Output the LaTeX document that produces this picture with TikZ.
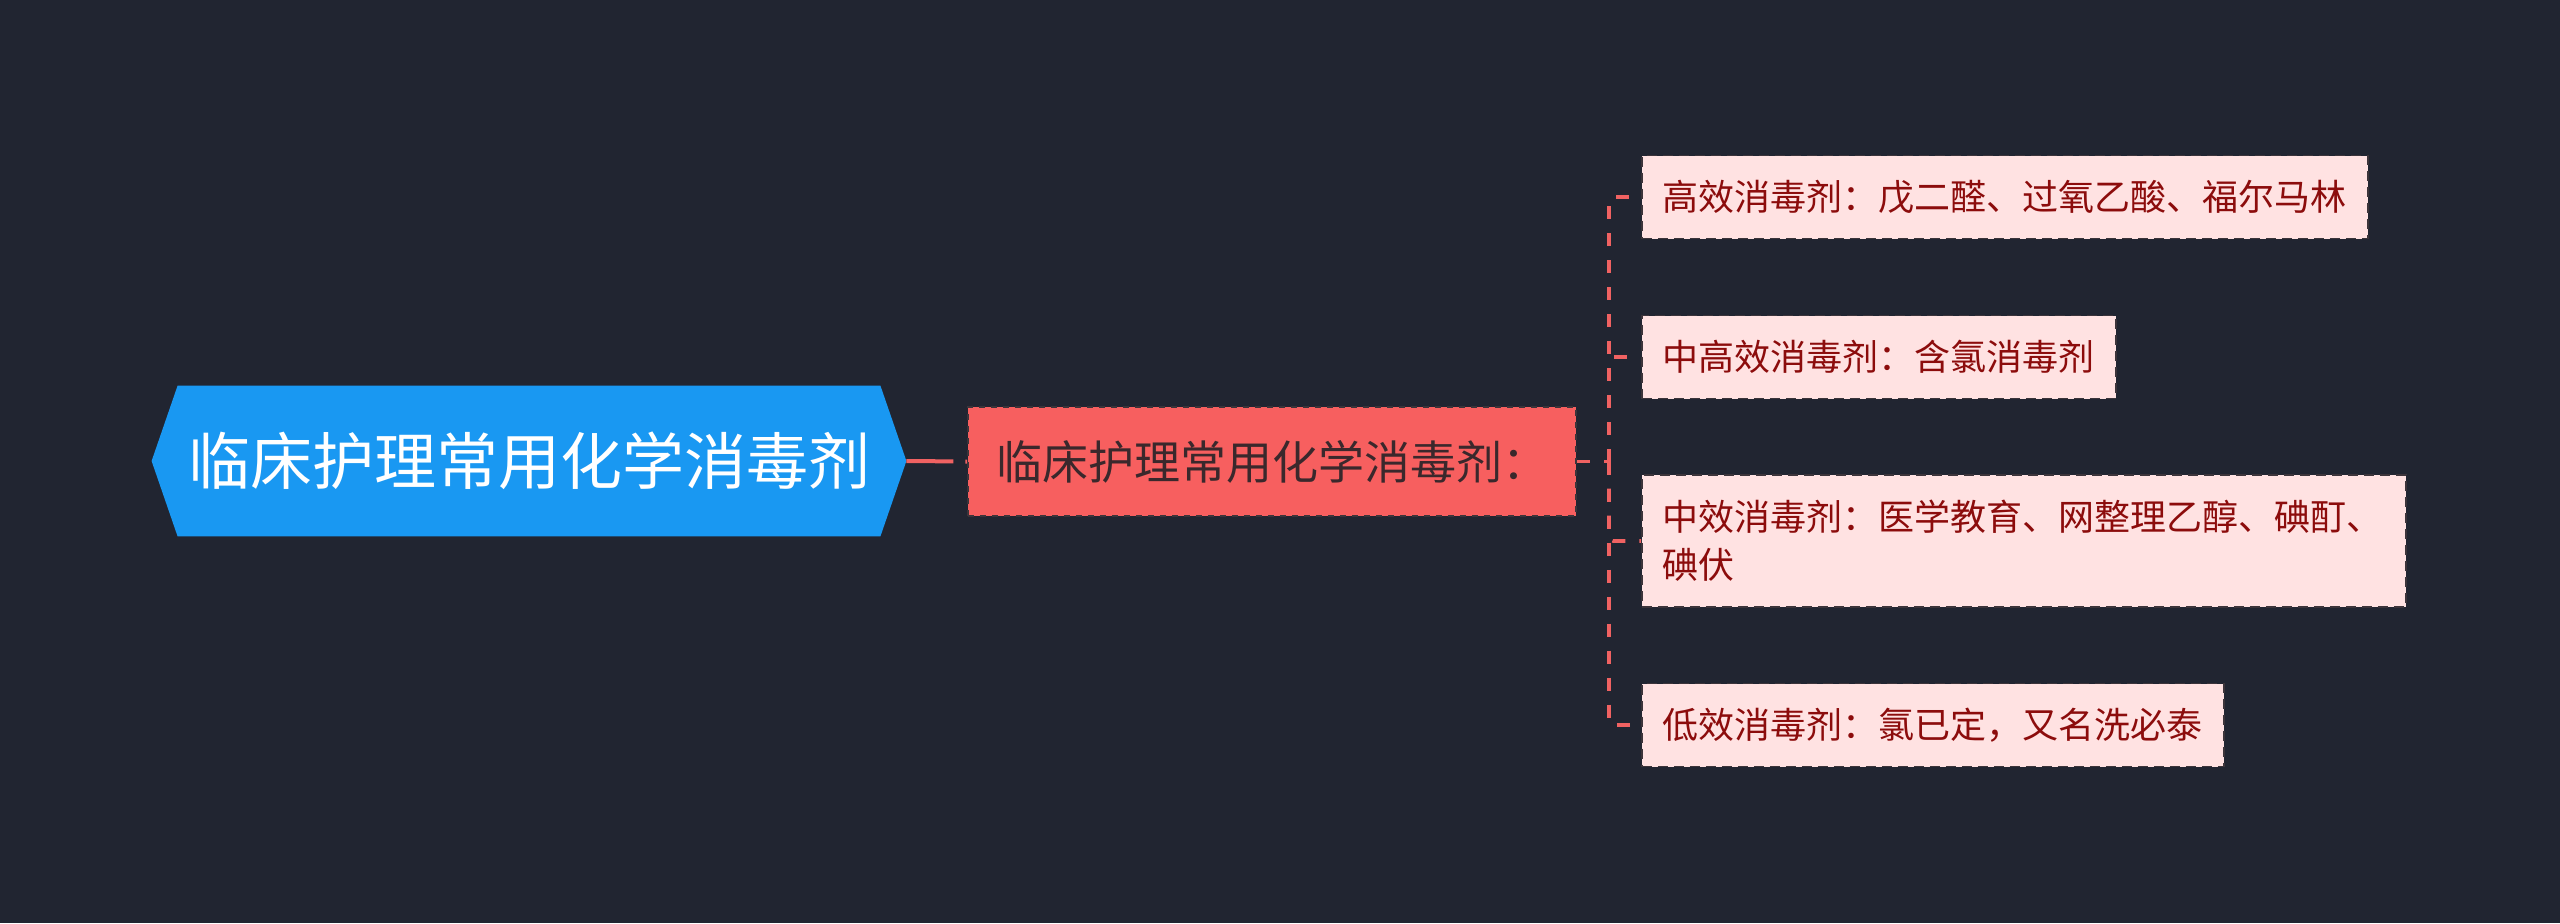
\documentclass[tikz,border=0pt]{standalone}
\usepackage{fontspec}
\setmainfont{Noto Sans CJK SC}
\usepackage{tikz}
\usetikzlibrary{positioning}
\definecolor{bg_colour}{RGB}{33, 37, 49}
\definecolor{root_colour}{RGB}{25, 152, 242}
\definecolor{mid_colour}{RGB}{247, 95, 95}
\definecolor{leaf_colour}{RGB}{255, 226, 226}
\definecolor{leaf_text}{RGB}{140, 12, 12}
\definecolor{mid_text}{RGB}{58, 40, 44}
\definecolor{link_colour}{RGB}{240, 98, 98}
\definecolor{edge_colour}{RGB}{60, 52, 58}
\pgfdeclarelayer{background}
\pgfsetlayers{background,main}

\begin{document}
\begin{tikzpicture}[
    x=0.5pt, y=-0.5pt,
    rootbox/.style={text=white, font=\fontsize{31pt}{36pt}\selectfont,
                inner xsep=5pt, inner ysep=0pt, minimum height=75pt},
    midbox/.style={draw=edge_colour, dashed, line width=1pt, fill=mid_colour,
                text=mid_text, font=\fontsize{23pt}{28pt}\selectfont,
                inner xsep=14pt, inner ysep=0pt, minimum height=54.5pt},
    leafbox/.style={draw=edge_colour, dash pattern=on 5pt off 3pt, line width=0.9pt,
                fill=leaf_colour, text=leaf_text, anchor=west,
                font=\fontsize{18pt}{24pt}\selectfont, align=left,
                inner xsep=10.5pt, inner ysep=10pt, minimum height=41.5pt},
    link/.style={draw=link_colour, line width=1.8pt, dash pattern=on 6.5pt off 7pt,
                rounded corners=2pt},
    rootlink/.style={draw=link_colour, line width=2pt, dash pattern=on 23.5pt off 6pt on 4pt off 10pt},
]
\begin{pgfonlayer}{background}
\fill[bg_colour] (0,0) rectangle (2560,923);
\end{pgfonlayer}

\node[rootbox] (root) at (529,461) {临床护理常用化学消毒剂};
\coordinate (rootl) at ([xshift=-13pt]root.west);
\coordinate (rootr) at ([xshift=13pt]root.east);
\begin{pgfonlayer}{background}
\fill[root_colour] (root.north west) -- (root.north east) -- (rootr)
    -- (root.south east) -- (root.south west) -- (rootl) -- cycle;
\end{pgfonlayer}

\node[midbox] (mid) at (1272,461.5) {临床护理常用化学消毒剂：};
\coordinate (fork) at (1609,461.5);

\node[leafbox] (high)    at (1641,197) {高效消毒剂：戊二醛、过氧乙酸、福尔马林};
\node[leafbox] (midhigh) at (1641,357) {中高效消毒剂：含氯消毒剂};
\node[leafbox, text width=361pt, minimum height=66pt] (medium) at (1641,541) {中效消毒剂：医学教育、网整理乙醇、碘酊、\\碘伏};
\node[leafbox] (low)     at (1641,725) {低效消毒剂：氯已定，又名洗必泰};

\draw[rootlink] (rootr) -- (mid.west);
\draw[link] (mid.east) -- (fork);
\draw[link] (fork) |- (high.west);
\draw[link] (fork) |- (midhigh.west);
\draw[link] (fork) |- (medium.west);
\draw[link] (fork) |- (low.west);
\end{tikzpicture}
\end{document}
